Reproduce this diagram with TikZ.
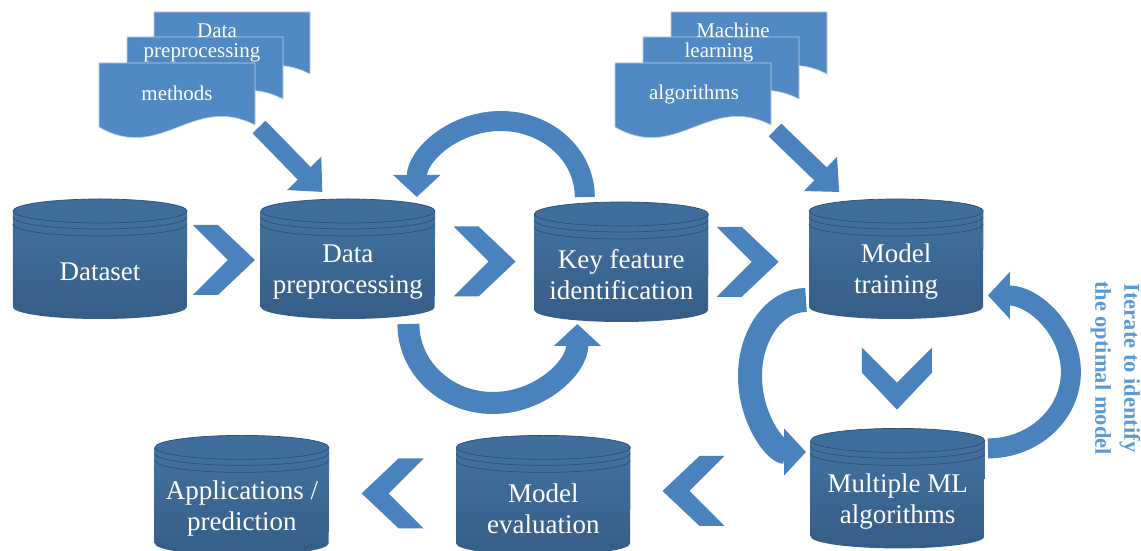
\documentclass[tikz,border=0pt]{standalone}
\usepackage{fontspec}
\setmainfont{Liberation Serif}
\newfontfamily\stageface{Liberation Serif}
\usepackage{tikz}
\usetikzlibrary{positioning, calc, arrows.meta, backgrounds}
\definecolor{drumtopc}{HTML}{3F6E9C}
\definecolor{drumhi}{HTML}{43729F}
\definecolor{drumlo}{HTML}{355D86}
\definecolor{drumedge}{HTML}{2B4F74}
\definecolor{flowblue}{HTML}{4A82BE}
\definecolor{pageblue}{HTML}{5089C3}
\definecolor{notecol}{HTML}{5B9BD5}
\tikzset{
  drum/.style={minimum width=174pt, minimum height=94pt, inner sep=0pt, align=center, text=white, font=\stageface\fontsize{27}{31}\selectfont},
  pagetext/.style={text=white, inner sep=0pt, font=\stageface\fontsize{21}{25}\selectfont},
  note/.style={text=notecol, inner sep=0pt, align=center, font=\stageface\bfseries\fontsize{22.5}{29}\selectfont},
  bend arrow/.style={draw=flowblue, line width=21pt, -{Triangle[width=46pt,length=22pt]}},
  block arrow/.style={draw=flowblue, line width=18pt, -{Triangle[width=46pt,length=26pt]}},
  chev/.pic={\fill[flowblue] (-31,35) -- (-6,35) -- (31,0) -- (-6,-35) -- (-31,-35) -- (4,0) -- cycle;},
  page/.pic={\filldraw[fill=pageblue, draw=white!60!pageblue, line width=0.6pt] (0,0) -- (156,0) -- (156,-62) .. controls (94,-30) and (62,-100) .. (0,-64) -- cycle;}
}
% cylinder drawn round a drum node
\newcommand{\drumshape}[1]{%
  \path[top color=drumhi, bottom color=drumlo] ($(#1.west)+(0,61)$) -- ($(#1.west)+(0,-35)$) arc[start angle=180, end angle=360, x radius=87, y radius=12] -- ($(#1.east)+(0,61)$) -- cycle;
  \filldraw[fill=drumtopc, draw=drumedge, line width=0.7pt] ($(#1)+(0,61)$) ellipse[x radius=87, y radius=12];
  \draw[drumedge, line width=0.7pt] ($(#1.west)+(0,55)$) arc[start angle=180, end angle=360, x radius=87, y radius=12];
  \draw[drumedge, line width=0.7pt] ($(#1.west)+(0,48)$) arc[start angle=180, end angle=360, x radius=87, y radius=12];
}

\begin{document}
\begin{tikzpicture}[x=1pt, y=1pt]
\useasboundingbox (0,0) rectangle (1141,551);

% stages
\node[drum] (ds) at (100,279) {Dataset};
\node[drum, right=73.5pt of ds] (dp) {Data\\preprocessing};
\node[drum, right=99pt of dp, yshift=-3pt] (kf) {Key feature\\identification};
\node[drum, right=100.5pt of kf, yshift=3pt] (mt) {Model\\training};
\node[drum, below=135pt of mt, xshift=1.5pt] (ml) {Multiple ML\\algorithms};
\node[drum, left=180pt of ml, yshift=-7pt] (me) {Model\\evaluation};
\node[drum, left=127pt of me] (ap) {Applications /\\prediction};

\begin{scope}[on background layer]
\foreach \n in {ds,dp,kf,mt,ml,me,ap} {\drumshape{\n}}
\end{scope}

% chevrons between stages
\path ($(ds.east)!.5!(dp.west)$) ++(0,12) pic{chev};
\path ($(dp.east)!.5!(kf.west)$) ++(0,12) pic{chev};
\path ($(kf.east)!.39!(mt.west)$) ++(0,12) pic{chev};
\path ($(mt.south)!.5!(ml.north)$) ++(0,8) pic[rotate=-90]{chev};
\path ($(me.east)!.35!(ml.west)$) ++(0,15) pic[rotate=180]{chev};
\path ($(ap.east)!.5!(me.west)$) ++(0,15) pic[rotate=180]{chev};

% loops
\draw[bend arrow, line width=20pt] ($(kf)+(-36.5,78)$) arc[start angle=0, end angle=180, x radius=84, y radius=76];
\draw[bend arrow, line width=22pt] ($(dp)+(60.5,-52)$) arc[start angle=180, end angle=360, x radius=84.5, y radius=79];
\draw[bend arrow, line width=24pt] ($(mt.west)+(-3,-28)$) arc[start angle=90, end angle=270, x radius=56, y radius=76];
\draw[bend arrow, line width=20pt] ($(ml.east)+(3,53)$) arc[start angle=-90, end angle=90, x radius=83, y radius=76.5];

% inputs
\coordinate (pmfoot) at (259,424);
\coordinate (mlfoot) at (775,421);
\draw[block arrow] (pmfoot) -- ($(dp)+(-25.5,80)$);
\draw[block arrow] (mlfoot) -- ($(mt)+(-57,80)$);
\foreach \x/\y in {154/539, 127/514, 99/488, 671/539, 643/514, 615/488}
  \path (\x,\y) pic{page};
\node[pagetext] (pm1) at (217,520) {Data};
\node[pagetext] (pm2) at (202,498) {preprocessing};
\node[pagetext] (pm3) at (177,458) {methods};
\node[pagetext] (al1) at (733,521) {Machine};
\node[pagetext] (al2) at (719,499) {learning};
\node[pagetext] (al3) at (694,457) {algorithms};

\node[note, rotate=-90] (iter) at (1115.5,183) {Iterate to identify\\the optimal model};
\end{tikzpicture}
\end{document}
